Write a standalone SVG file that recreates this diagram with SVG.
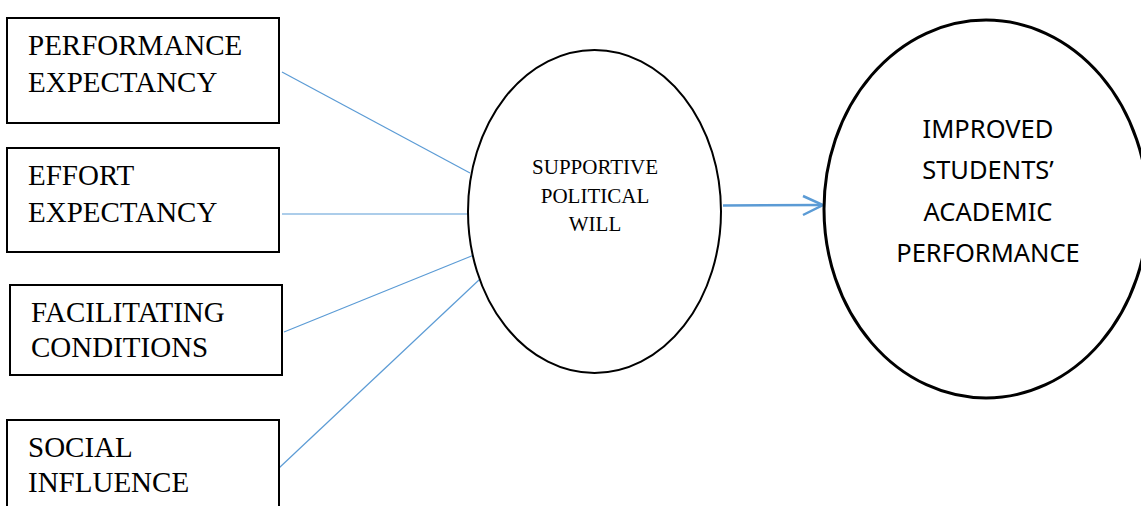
<svg xmlns="http://www.w3.org/2000/svg" width="1141" height="506" viewBox="0 0 1141 506">
<style>
.box{fill:#fff;stroke:#000;stroke-width:2}
.bt{font-family:"Liberation Serif","Times New Roman",serif;font-size:29px;fill:#000}
.et{font-family:"Liberation Serif","Times New Roman",serif;font-size:21px;fill:#000;text-anchor:middle}
.ct{font-family:"Noto Sans","Open Sans",sans-serif;font-size:25.5px;fill:#000;text-anchor:middle}
.conn{stroke:#5B9BD5;stroke-width:1.2;fill:none}
</style>
<rect width="1141" height="506" fill="#fff"/>
<g id="connectors">
<line class="conn" x1="282" y1="72" x2="470" y2="173"/>
<line class="conn" x1="282" y1="214" x2="469" y2="214"/>
<line class="conn" x1="284" y1="332" x2="474" y2="255"/>
<line class="conn" x1="279" y1="468" x2="480" y2="279"/>
<g id="arrow">
<line x1="723" y1="205.5" x2="821" y2="205" stroke="#5B9BD5" stroke-width="2.5"/>
<polyline points="803,196 823,205 803,215" fill="none" stroke="#5B9BD5" stroke-width="2.5" stroke-linejoin="miter"/>
</g>
</g>
<g id="performance-expectancy">
<rect class="box" x="7" y="18" width="272" height="105"/>
<text class="bt" x="28" y="55">PERFORMANCE</text>
<text class="bt" x="28" y="92">EXPECTANCY</text>
</g>
<g id="effort-expectancy">
<rect class="box" x="7" y="148" width="272" height="104"/>
<text class="bt" x="28" y="185">EFFORT</text>
<text class="bt" x="28" y="222">EXPECTANCY</text>
</g>
<g id="facilitating-conditions">
<rect class="box" x="10" y="285" width="272" height="90"/>
<text class="bt" x="31" y="322">FACILITATING</text>
<text class="bt" x="31" y="357">CONDITIONS</text>
</g>
<g id="social-influence">
<rect class="box" x="7" y="420" width="272" height="100"/>
<text class="bt" x="28" y="457">SOCIAL</text>
<text class="bt" x="28" y="492">INFLUENCE</text>
</g>
<g id="supportive-political-will">
<ellipse cx="594.5" cy="211.5" rx="126.5" ry="161.5" fill="#fff" stroke="#000" stroke-width="2"/>
<text class="et" x="595" y="174">SUPPORTIVE</text>
<text class="et" x="595" y="203">POLITICAL</text>
<text class="et" x="595" y="231">WILL</text>
</g>
<g id="improved-performance">
<ellipse cx="986" cy="209" rx="162" ry="189" fill="#fff" stroke="#000" stroke-width="3"/>
<text class="ct" x="988" y="138">IMPROVED</text>
<text class="ct" x="988" y="179">STUDENTS’</text>
<text class="ct" x="988" y="221">ACADEMIC</text>
<text class="ct" x="988" y="262">PERFORMANCE</text>
</g>
</svg>
